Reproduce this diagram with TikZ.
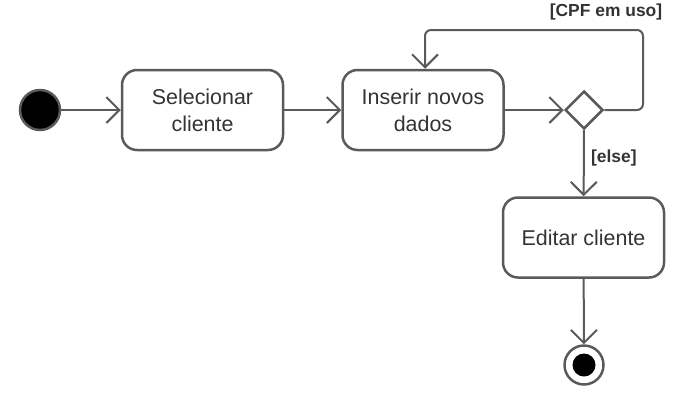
\documentclass[tikz,border=0pt]{standalone}
\usepackage{fontspec}
\setmainfont{Liberation Sans}
\usetikzlibrary{arrows.meta}
\usetikzlibrary{shapes.geometric}
\definecolor{line-gray}{HTML}{5A5A5A}
\definecolor{text-gray}{HTML}{333333}
\tikzstyle{activity}=[draw=line-gray,line width=2.5bp,rounded corners=15bp,minimum width=161bp,minimum height=80bp,align=center,text=text-gray,font=\fontsize{21.5}{27}\selectfont]
\tikzstyle{decision}=[draw=line-gray,line width=2.5bp,diamond,inner sep=0pt,minimum size=38bp,fill=white]
\tikzstyle{flow}=[draw=line-gray,line width=2bp,-{Straight Barb[length=13bp,width=26bp,line width=2bp]}]
\tikzstyle{guard}=[text=text-gray,font=\fontsize{17.5}{20}\selectfont\bfseries]
\begin{document}
\begin{tikzpicture}[x=1bp,y=-1bp]
	\useasboundingbox (0,0) rectangle (683,405);
	% initial and final states
	\node[circle,draw=line-gray,line width=2.5bp,fill=black,minimum size=40bp,inner sep=0pt] (start) at (40,110) {};
	\node[circle,draw=line-gray,line width=2.5bp,fill=white,minimum size=39bp,inner sep=0pt] (stop) at (584,365) {};
	\node[circle,fill=black,minimum size=23bp,inner sep=0pt] (stopdot) at (stop.center) {};
	% activities
	\node[activity] (select) at (202.5,110) {Selecionar\\cliente};
	\node[activity] (insert) at (423,110) {Inserir novos\\dados};
	\node[decision] (decide) at (584,110) {};
	\node[activity] (edit) at (583.5,237.5) {Editar cliente};
	% flows
	\draw[flow] (start) -- (select);
	\draw[flow] (select) -- (insert);
	\draw[flow] (insert) -- (decide);
	\coordinate (loopR) at (643,30);
	\coordinate (loopL) at (425,30);
	\draw[flow,rounded corners=6bp] (decide.east) -| (loopR) -- (loopL) -- (loopL |- insert.north);
	\node[guard] (inuse) at (606,12) {[CPF em uso]};
	\draw[flow] (decide) -- (edit) node[pos=0.42,right=3bp,guard] (other) {[else]};
	\draw[flow] (edit) -- (stop);
\end{tikzpicture}
\end{document}
